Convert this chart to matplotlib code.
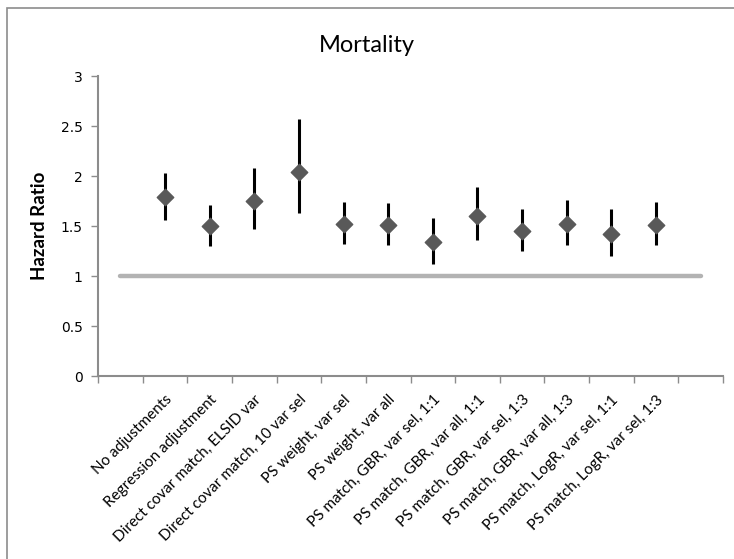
import matplotlib.pyplot as plt
from matplotlib.patches import Rectangle

# hazard ratios with 95% confidence limits
methods = ["No adjustments", "Regression adjustment", "Direct covar match, ELSID var",
           "Direct covar match, 10 var sel", "PS weight, var sel", "PS weight, var all",
           "PS match, GBR, var sel, 1:1", "PS match, GBR, var all, 1:1",
           "PS match, GBR, var sel, 1:3", "PS match, GBR, var all, 1:3",
           "PS match, LogR, var sel, 1:1", "PS match, LogR, var sel, 1:3"]
hr = [1.79, 1.50, 1.75, 2.04, 1.52, 1.51, 1.34, 1.60, 1.45, 1.52, 1.42, 1.51]
lower = [1.56, 1.30, 1.47, 1.63, 1.32, 1.31, 1.12, 1.36, 1.25, 1.31, 1.20, 1.31]
upper = [2.03, 1.71, 2.08, 2.57, 1.74, 1.73, 1.58, 1.89, 1.67, 1.76, 1.67, 1.74]
reference = 1.0

font = "Lato"
gray = "#8c8c8c"

fig = plt.figure(figsize=(7.34, 5.59), dpi=100)
ax = fig.add_axes([98 / 734, 1 - 376 / 559, 625 / 734, 300 / 559])

# outer chart frame
fig.patches.append(Rectangle((7 / 734, -0.1), 1.2, 1 - 8 / 559 + 0.1, transform=fig.transFigure,
                             fill=False, edgecolor=gray, linewidth=1.2))

n = len(methods)
x = list(range(2, n + 2))

# no-effect line across all category slots, including the blank ones at each end
ax.plot([1, n + 2], [reference, reference], color="#b3b3b3", linewidth=3.2,
        solid_capstyle="round", zorder=1)

err_lo = [h - l for h, l in zip(hr, lower)]
err_hi = [u - h for h, u in zip(hr, upper)]
ax.errorbar(x, hr, yerr=[err_lo, err_hi], fmt="none", ecolor="black", elinewidth=2.2,
            capsize=0, zorder=2)
ax.scatter(x, hr, marker="D", s=70, color="#595959", zorder=3)

ax.set_xlim(0.5, n + 2.5)
ax.set_ylim(0, 3)
ax.set_yticks([0, 0.5, 1, 1.5, 2, 2.5, 3])
ax.set_yticklabels(["0", "0.5", "1", "1.5", "2", "2.5", "3"], fontsize=10)

ax.set_xticks([i + 0.5 for i in range(0, n + 3)])
ax.set_xticklabels([])
ax.set_xticks(x, minor=True)
ax.set_xticklabels(methods, minor=True, rotation=45, ha="right", va="top",
                   rotation_mode="anchor", fontsize=11, family=font)
ax.tick_params(axis="x", which="minor", length=0, pad=12)
ax.tick_params(axis="x", which="major", length=5, color=gray, width=1)
ax.tick_params(axis="y", length=5, color=gray, width=1, pad=6)

for side in ["top", "right"]:
    ax.spines[side].set_visible(False)
for side in ["left", "bottom"]:
    ax.spines[side].set_color(gray)
    ax.spines[side].set_linewidth(1.5)

ax.set_ylabel("Hazard Ratio", fontsize=13.5, fontweight="bold", family=font, labelpad=9)
fig.text(0.5, 1 - 45 / 559, "Mortality", ha="center", va="center", fontsize=17, family=font)

fig.savefig("out.png", dpi=100)
